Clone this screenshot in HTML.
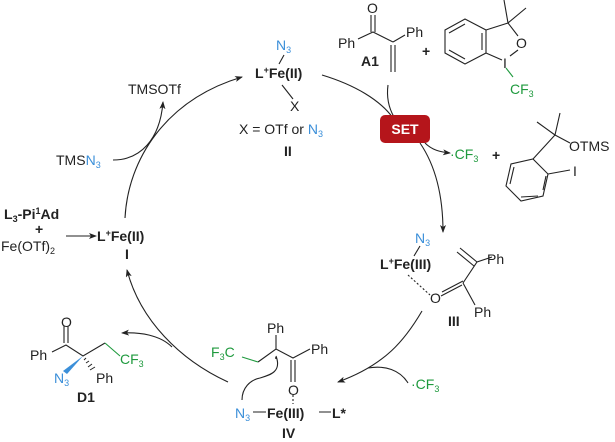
<!DOCTYPE html>
<html><head><meta charset="utf-8"><style>
html,body{margin:0;padding:0;background:#fff;}
svg{display:block;}
text{font-family:"Liberation Sans",Arial,sans-serif;font-size:14px;fill:#222;}
.b{font-weight:bold;}
.bl{fill:#3b8fd9;}
.g{fill:#1f9a3e;}
.s{font-size:9px;}
</style></head><body>
<svg width="615" height="442" viewBox="0 0 615 442" xmlns="http://www.w3.org/2000/svg">
<defs>
<marker id="ah" markerWidth="8" markerHeight="6" refX="7" refY="3" orient="auto" markerUnits="userSpaceOnUse">
<path d="M0,0 L8,3 L0,6 L2,3 Z" fill="#222"/></marker>
</defs>
<g fill="none" stroke="#222" stroke-width="1.1">
<path d="M125,218 C128,160 165,100 242,77" marker-end="url(#ah)"/>
<path d="M113,160 C140,160 160,140 163,102" marker-end="url(#ah)"/>
<path d="M322,75 C355,85 380,100 393,118"/>
<path d="M388,85 C386,100 390,110 394,117"/>
<path d="M420,143 C435,165 443,195 443,232" marker-end="url(#ah)"/>
<path d="M425,143 C432,150 440,152 450,153" marker-end="url(#ah)"/>
<path d="M422,311 C405,340 385,365 338,382" marker-end="url(#ah)"/>
<path d="M408,383 C400,370 385,365 368,368"/>
<path d="M228,382 C180,360 140,320 127,270" marker-end="url(#ah)"/>
<path d="M172,347 C160,335 140,332 122,333" marker-end="url(#ah)"/>
<path d="M66,236 L96,236" marker-end="url(#ah)"/>
<path d="M284,55 L279,64"/><path d="M282,85 L293,99"/>
<path d="M358,39 L373,32 L393,42"/><path d="M371,32 L371,15"/><path d="M375,32 L375,15"/>
<path d="M393,42 L405,35"/><path d="M391,45 L391,72"/><path d="M395,45 L395,72"/>
<path d="M445,30 L465,19 L486,30 L486,53 L465,64 L445,53 Z"/>
<path d="M449,33 L465,24 M482,33 L482,50 M449,50 L465,59"/>
<path d="M486,30 L508,23 L518,36 M508,23 L504,0 M508,23 L526,8 M518,50 L510,56 M486,53 L502,60"/>
<path d="M533,159 L548,174 L543,196 L521,201 L506,186 L511,164 Z"/>
<path d="M538,196 L521,197 M510,184 L514,167 M546,176 L543,190"/>
<path d="M533,159 L555,135 L537,122 M555,135 L560,113 M555,135 L570,143 M548,174 L570,170"/>
<path d="M420,246 L414,256"/>
<path d="M408,275 L430,295" stroke-dasharray="2,2"/>
<path d="M442,292 L463,281 M441,296 L462,285 M463,283 L475,305 M463,283 L477,262 L492,257 M477,262 L460,248 M474,266 L457,252"/>
<path d="M258,362 L276,349 L293,358 L310,349 M276,349 L276,335 M291,360 L291,382 M295,360 L295,382"/>
<path d="M293,395 L293,404" stroke-dasharray="2,2"/>
<path d="M253,412 L266,412 M319,412 L331,412"/>
<path d="M276,356 C282,372 270,375 260,378 C250,380 242,388 242,400"/>
<path d="M64,343 L64,326 M68,343 L68,326 M52,352 L66,345 L83,356 L105,343"/>
</g>
<polygon points="83,356 63,371 67,374" fill="#3b8fd9"/>
<g stroke="#222" stroke-width="1"><path d="M86,358 L84,360 M89,361 L86,363 M92,364 L88,367 M95,367 L90,370"/></g>
<g stroke="#1f9a3e" stroke-width="1.1" fill="none"><path d="M105,343 L120,356"/><path d="M242,357 L258,362"/><path d="M506,68 L513,77"/></g>
<circle cx="276" cy="358" r="1" fill="#222"/>
<rect x="380" y="115" width="50" height="28" rx="5" fill="#b5151b"/>
<text x="405" y="134" text-anchor="middle" class="b" style="fill:#fff;font-size:14px">SET</text>
<text x="276" y="50" class="bl">N<tspan class="s bl" dy="3">3</tspan></text>
<text x="255" y="78" class="b">L<tspan class="s" dy="-5">+</tspan><tspan dy="5">Fe(II)</tspan></text>
<text x="290" y="111">X</text>
<text x="239" y="134">X = OTf or <tspan class="bl">N</tspan><tspan class="s bl" dy="3">3</tspan></text>
<text x="284" y="156" class="b">II</text>
<text x="128" y="94">TMSOTf</text>
<text x="56" y="165">TMS<tspan class="bl">N</tspan><tspan class="s bl" dy="3">3</tspan></text>
<text x="4" y="219" class="b">L<tspan class="s" dy="3">3</tspan><tspan dy="-3">-Pi</tspan><tspan class="s" dy="-5">1</tspan><tspan dy="5">Ad</tspan></text>
<text x="35" y="234" class="b">+</text>
<text x="1" y="251">Fe(OTf)<tspan class="s" dy="3">2</tspan></text>
<text x="97" y="241" class="b">L<tspan class="s" dy="-5">+</tspan><tspan dy="5">Fe(II)</tspan></text>
<text x="125" y="259" class="b">I</text>
<text x="367" y="13">O</text>
<text x="338" y="48">Ph</text>
<text x="406" y="37">Ph</text>
<text x="361" y="66" class="b">A1</text>
<text x="422" y="56" class="b">+</text>
<text x="516" y="48">O</text>
<text x="503" y="68">I</text>
<text x="510" y="94" class="g">CF<tspan class="s g" dy="3">3</tspan></text>
<text x="450" y="159" class="g">·CF<tspan class="s g" dy="3">3</tspan></text>
<text x="492" y="160" class="b">+</text>
<text x="569" y="151">OTMS</text>
<text x="573" y="176">I</text>
<text x="415" y="243" class="bl">N<tspan class="s bl" dy="3">3</tspan></text>
<text x="380" y="269" class="b">L<tspan class="s" dy="-5">+</tspan><tspan dy="5">Fe(III)</tspan></text>
<text x="430" y="303">O</text>
<text x="487" y="264">Ph</text>
<text x="474" y="317">Ph</text>
<text x="448" y="326" class="b">III</text>
<text x="411" y="389" class="g">·CF<tspan class="s g" dy="3">3</tspan></text>
<text x="211" y="357" class="g">F<tspan class="s g" dy="3">3</tspan><tspan dy="-3">C</tspan></text>
<text x="267" y="333">Ph</text>
<text x="311" y="354">Ph</text>
<text x="288" y="395">O</text>
<text x="235" y="418" class="bl">N<tspan class="s bl" dy="3">3</tspan></text>
<text x="267" y="418" class="b">Fe(III)</text>
<text x="332" y="418" class="b">L*</text>
<text x="282" y="438" class="b">IV</text>
<text x="61" y="327">O</text>
<text x="30" y="360">Ph</text>
<text x="120" y="364" class="g">CF<tspan class="s g" dy="3">3</tspan></text>
<text x="54" y="383" class="bl">N<tspan class="s bl" dy="3">3</tspan></text>
<text x="96" y="383">Ph</text>
<text x="77" y="402" class="b">D1</text>
</svg>
</body></html>
